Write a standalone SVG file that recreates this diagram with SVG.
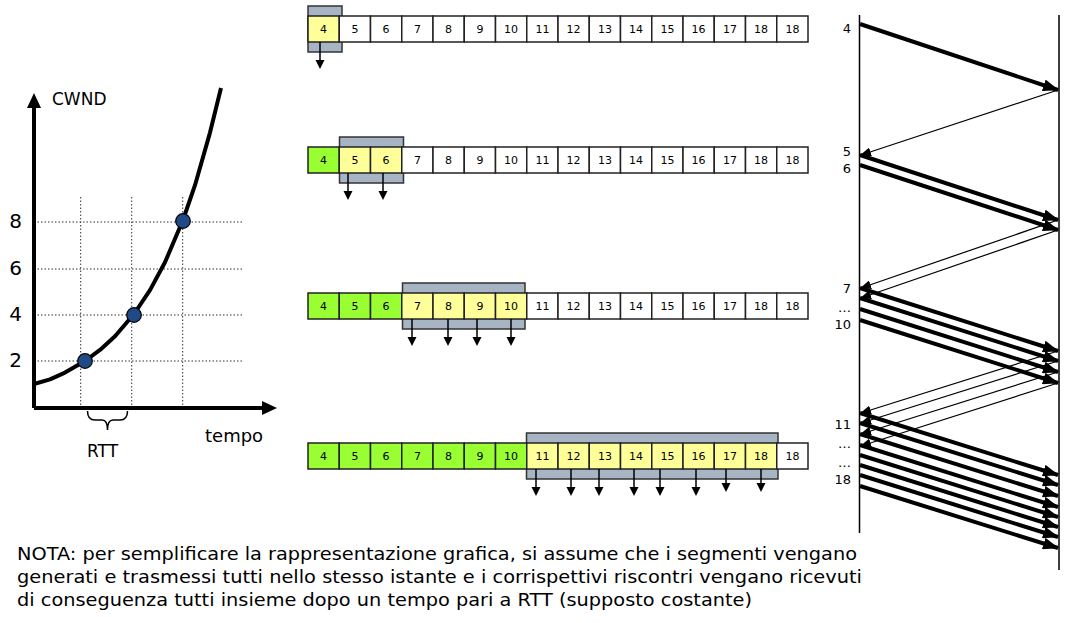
<svg xmlns="http://www.w3.org/2000/svg" width="1083" height="623" viewBox="0 0 1083 623">
<style>
text{font-family:"DejaVu Sans","Liberation Sans",sans-serif;fill:#000}
.bx{stroke:#222;stroke-width:1.5}
.w{fill:#fff}.y{fill:#ffff99}.g{fill:#99ff33}
.bt{font-size:11px;text-anchor:middle}
.win{fill:#a6b4c4;stroke:#333;stroke-width:1.5}
.dn{stroke:#000;stroke-width:1.5;fill:none}
.grid{stroke:#333;stroke-width:1;stroke-dasharray:1.5,2;fill:none}
.thick{stroke:#000;stroke-width:4;fill:none;marker-end:url(#ah)}
.thin{stroke:#000;stroke-width:1.2;fill:none;marker-end:url(#at)}
.lab{font-size:13px;text-anchor:end}
.nota{font-size:18px}
</style>
<defs>
<marker id="ah" markerUnits="userSpaceOnUse" markerWidth="16" markerHeight="12" refX="15" refY="6" orient="auto"><path d="M0,0 L16,6 L0,12 z" fill="#000"/></marker>
<marker id="at" markerUnits="userSpaceOnUse" markerWidth="11" markerHeight="9" refX="10" refY="4.5" orient="auto"><path d="M0,0 L11,4.5 L0,9 z" fill="#000"/></marker>
<path id="tri" d="M-4.5,-9 L4.5,-9 L0,0 z" fill="#000"/>
</defs>

<g id="graph">
<g class="grid">
<path d="M34,222 H242 M34,269 H242 M34,315 H242 M34,361 H242"/>
<path d="M80.7,197 V408 M131.7,197 V408 M182.7,197 V408"/>
</g>
<path d="M34,408 V104 M34,408 H264" stroke="#000" stroke-width="4" fill="none"/>
<path d="M34,93 L27,108 L41,108 z" fill="#000"/>
<path d="M277,408 L262,401 L262,415 z" fill="#000"/>
<path d="M34,384 L50,379.3 L65,372.6 L85,361 L100,349.9 L115,336.2 L134,314 L150,290.1 L165,262.3 L183,220 L195,185.2 L210,132.6 L221,88" stroke="#000" stroke-width="4" fill="none" stroke-linejoin="round"/>
<circle cx="85" cy="361" r="7.3" fill="#1f4a85" stroke="#000" stroke-width="1.2"/>
<circle cx="134" cy="315" r="7.3" fill="#1f4a85" stroke="#000" stroke-width="1.2"/>
<circle cx="183" cy="221" r="7.3" fill="#1f4a85" stroke="#000" stroke-width="1.2"/>
<text x="52" y="105" font-size="17">CWND</text>
<text x="15.5" y="228" font-size="20" text-anchor="middle">8</text>
<text x="15.5" y="275" font-size="20" text-anchor="middle">6</text>
<text x="15.5" y="321" font-size="20" text-anchor="middle">4</text>
<text x="15.5" y="367" font-size="20" text-anchor="middle">2</text>
<path d="M87.5,411 Q87.5,420 95,420 L102,420 Q107.5,420 107.5,430 Q107.5,420 113,420 L120,420 Q127.5,420 127.5,411" stroke="#000" stroke-width="1.5" fill="none"/>
<text x="87" y="457" font-size="17">RTT</text>
<text x="205" y="442" font-size="18">tempo</text>
</g>

<g id="row1">
<rect class="win" x="308" y="6" width="34" height="46"/>
<rect class="bx y" x="308" y="16" width="31.25" height="26"/>
<rect class="bx w" x="339.25" y="16" width="31.25" height="26"/>
<rect class="bx w" x="370.5" y="16" width="31.25" height="26"/>
<rect class="bx w" x="401.75" y="16" width="31.25" height="26"/>
<rect class="bx w" x="433" y="16" width="31.25" height="26"/>
<rect class="bx w" x="464.25" y="16" width="31.25" height="26"/>
<rect class="bx w" x="495.5" y="16" width="31.25" height="26"/>
<rect class="bx w" x="526.75" y="16" width="31.25" height="26"/>
<rect class="bx w" x="558" y="16" width="31.25" height="26"/>
<rect class="bx w" x="589.25" y="16" width="31.25" height="26"/>
<rect class="bx w" x="620.5" y="16" width="31.25" height="26"/>
<rect class="bx w" x="651.75" y="16" width="31.25" height="26"/>
<rect class="bx w" x="683" y="16" width="31.25" height="26"/>
<rect class="bx w" x="714.25" y="16" width="31.25" height="26"/>
<rect class="bx w" x="745.5" y="16" width="31.25" height="26"/>
<rect class="bx w" x="776.75" y="16" width="31.25" height="26"/>
<g class="bt">
<text x="323.6" y="33">4</text><text x="354.9" y="33">5</text><text x="386.1" y="33">6</text><text x="417.4" y="33">7</text><text x="448.6" y="33">8</text><text x="479.9" y="33">9</text><text x="511.1" y="33">10</text><text x="542.4" y="33">11</text><text x="573.6" y="33">12</text><text x="604.9" y="33">13</text><text x="636.1" y="33">14</text><text x="667.4" y="33">15</text><text x="698.6" y="33">16</text><text x="729.9" y="33">17</text><text x="761.1" y="33">18</text><text x="792.4" y="33">18</text>
</g>
<path class="dn" d="M320,42 V61"/><use href="#tri" x="320" y="69"/>
</g>

<g id="row2">
<rect class="win" x="339.5" y="137" width="64" height="46"/>
<rect class="bx g" x="308" y="147" width="31.25" height="26"/>
<rect class="bx y" x="339.25" y="147" width="31.25" height="26"/>
<rect class="bx y" x="370.5" y="147" width="31.25" height="26"/>
<rect class="bx w" x="401.75" y="147" width="31.25" height="26"/>
<rect class="bx w" x="433" y="147" width="31.25" height="26"/>
<rect class="bx w" x="464.25" y="147" width="31.25" height="26"/>
<rect class="bx w" x="495.5" y="147" width="31.25" height="26"/>
<rect class="bx w" x="526.75" y="147" width="31.25" height="26"/>
<rect class="bx w" x="558" y="147" width="31.25" height="26"/>
<rect class="bx w" x="589.25" y="147" width="31.25" height="26"/>
<rect class="bx w" x="620.5" y="147" width="31.25" height="26"/>
<rect class="bx w" x="651.75" y="147" width="31.25" height="26"/>
<rect class="bx w" x="683" y="147" width="31.25" height="26"/>
<rect class="bx w" x="714.25" y="147" width="31.25" height="26"/>
<rect class="bx w" x="745.5" y="147" width="31.25" height="26"/>
<rect class="bx w" x="776.75" y="147" width="31.25" height="26"/>
<g class="bt">
<text x="323.6" y="164">4</text><text x="354.9" y="164">5</text><text x="386.1" y="164">6</text><text x="417.4" y="164">7</text><text x="448.6" y="164">8</text><text x="479.9" y="164">9</text><text x="511.1" y="164">10</text><text x="542.4" y="164">11</text><text x="573.6" y="164">12</text><text x="604.9" y="164">13</text><text x="636.1" y="164">14</text><text x="667.4" y="164">15</text><text x="698.6" y="164">16</text><text x="729.9" y="164">17</text><text x="761.1" y="164">18</text><text x="792.4" y="164">18</text>
</g>
<path class="dn" d="M348,173 V192 M383,173 V192"/><use href="#tri" x="348" y="200"/><use href="#tri" x="383" y="200"/>
</g>

<g id="row3">
<rect class="win" x="402.5" y="283" width="122.5" height="46"/>
<rect class="bx g" x="308" y="293" width="31.25" height="26"/>
<rect class="bx g" x="339.25" y="293" width="31.25" height="26"/>
<rect class="bx g" x="370.5" y="293" width="31.25" height="26"/>
<rect class="bx y" x="401.75" y="293" width="31.25" height="26"/>
<rect class="bx y" x="433" y="293" width="31.25" height="26"/>
<rect class="bx y" x="464.25" y="293" width="31.25" height="26"/>
<rect class="bx y" x="495.5" y="293" width="31.25" height="26"/>
<rect class="bx w" x="526.75" y="293" width="31.25" height="26"/>
<rect class="bx w" x="558" y="293" width="31.25" height="26"/>
<rect class="bx w" x="589.25" y="293" width="31.25" height="26"/>
<rect class="bx w" x="620.5" y="293" width="31.25" height="26"/>
<rect class="bx w" x="651.75" y="293" width="31.25" height="26"/>
<rect class="bx w" x="683" y="293" width="31.25" height="26"/>
<rect class="bx w" x="714.25" y="293" width="31.25" height="26"/>
<rect class="bx w" x="745.5" y="293" width="31.25" height="26"/>
<rect class="bx w" x="776.75" y="293" width="31.25" height="26"/>
<g class="bt">
<text x="323.6" y="310">4</text><text x="354.9" y="310">5</text><text x="386.1" y="310">6</text><text x="417.4" y="310">7</text><text x="448.6" y="310">8</text><text x="479.9" y="310">9</text><text x="511.1" y="310">10</text><text x="542.4" y="310">11</text><text x="573.6" y="310">12</text><text x="604.9" y="310">13</text><text x="636.1" y="310">14</text><text x="667.4" y="310">15</text><text x="698.6" y="310">16</text><text x="729.9" y="310">17</text><text x="761.1" y="310">18</text><text x="792.4" y="310">18</text>
</g>
<path class="dn" d="M412,319 V338 M448,319 V338 M477,319 V338 M511,319 V338"/>
<use href="#tri" x="412" y="346"/><use href="#tri" x="448" y="346"/><use href="#tri" x="477" y="346"/><use href="#tri" x="511" y="346"/>
</g>

<g id="row4">
<rect class="win" x="526.5" y="433" width="251.5" height="46"/>
<rect class="bx g" x="308" y="443" width="31.25" height="26"/>
<rect class="bx g" x="339.25" y="443" width="31.25" height="26"/>
<rect class="bx g" x="370.5" y="443" width="31.25" height="26"/>
<rect class="bx g" x="401.75" y="443" width="31.25" height="26"/>
<rect class="bx g" x="433" y="443" width="31.25" height="26"/>
<rect class="bx g" x="464.25" y="443" width="31.25" height="26"/>
<rect class="bx g" x="495.5" y="443" width="31.25" height="26"/>
<rect class="bx y" x="526.75" y="443" width="31.25" height="26"/>
<rect class="bx y" x="558" y="443" width="31.25" height="26"/>
<rect class="bx y" x="589.25" y="443" width="31.25" height="26"/>
<rect class="bx y" x="620.5" y="443" width="31.25" height="26"/>
<rect class="bx y" x="651.75" y="443" width="31.25" height="26"/>
<rect class="bx y" x="683" y="443" width="31.25" height="26"/>
<rect class="bx y" x="714.25" y="443" width="31.25" height="26"/>
<rect class="bx y" x="745.5" y="443" width="31.25" height="26"/>
<rect class="bx w" x="776.75" y="443" width="31.25" height="26"/>
<g class="bt">
<text x="323.6" y="460">4</text><text x="354.9" y="460">5</text><text x="386.1" y="460">6</text><text x="417.4" y="460">7</text><text x="448.6" y="460">8</text><text x="479.9" y="460">9</text><text x="511.1" y="460">10</text><text x="542.4" y="460">11</text><text x="573.6" y="460">12</text><text x="604.9" y="460">13</text><text x="636.1" y="460">14</text><text x="667.4" y="460">15</text><text x="698.6" y="460">16</text><text x="729.9" y="460">17</text><text x="761.1" y="460">18</text><text x="792.4" y="460">18</text>
</g>
<path class="dn" d="M536,469 V488 M571,469 V488 M599,469 V488 M634,469 V488 M660,469 V488 M696,469 V488 M726,469 V484 M761,469 V484"/>
<use href="#tri" x="536" y="496"/><use href="#tri" x="571" y="496"/><use href="#tri" x="599" y="496"/><use href="#tri" x="634" y="496"/><use href="#tri" x="660" y="496"/><use href="#tri" x="696" y="496"/><use href="#tri" x="726" y="492"/><use href="#tri" x="761" y="492"/>
</g>

<g id="timeline">
<path d="M859.5,15 V533 M1059,15 V570" stroke="#000" stroke-width="1.5" fill="none"/>
<g class="lab">
<text x="851" y="33">4</text>
<text x="851" y="156">5</text>
<text x="851" y="173">6</text>
<text x="851" y="293">7</text>
<text x="851" y="312">…</text>
<text x="851" y="329">10</text>
<text x="851" y="429">11</text>
<text x="851" y="448">…</text>
<text x="851" y="467">…</text>
<text x="851" y="484">18</text>
</g>
</g>

<g id="connectors">
<path class="thick" d="M860,24 L1058,90"/>
<path class="thin" d="M1058,90 L861,155"/>
<path class="thick" d="M860,155 L1058,220"/>
<path class="thick" d="M860,165 L1058,230"/>
<path class="thin" d="M1058,220 L861,288"/>
<path class="thin" d="M1058,230 L861,298"/>
<path class="thick" d="M860,288 L1058,351"/>
<path class="thick" d="M860,298 L1058,361"/>
<path class="thick" d="M860,309 L1058,372"/>
<path class="thick" d="M860,320 L1058,383"/>
<path class="thin" d="M1058,351 L861,413"/>
<path class="thin" d="M1058,361 L861,423"/>
<path class="thin" d="M1058,372 L861,434"/>
<path class="thin" d="M1058,383 L861,446"/>
<path class="thick" d="M860,413 L1058,475"/>
<path class="thick" d="M860,423 L1058,485"/>
<path class="thick" d="M860,434 L1058,496"/>
<path class="thick" d="M860,445 L1058,507"/>
<path class="thick" d="M860,455 L1058,517"/>
<path class="thick" d="M860,465 L1058,527"/>
<path class="thick" d="M860,475 L1058,537"/>
<path class="thick" d="M860,486 L1058,548"/>
</g>

<g id="nota">
<text class="nota" x="17" y="560" textLength="840" lengthAdjust="spacingAndGlyphs">NOTA: per semplificare la rappresentazione grafica, si assume che i segmenti vengano</text>
<text class="nota" x="17" y="583" textLength="845" lengthAdjust="spacingAndGlyphs">generati e trasmessi tutti nello stesso istante e i corrispettivi riscontri vengano ricevuti</text>
<text class="nota" x="17" y="606" textLength="735" lengthAdjust="spacingAndGlyphs">di conseguenza tutti insieme dopo un tempo pari a RTT (supposto costante)</text>
</g>
</svg>
